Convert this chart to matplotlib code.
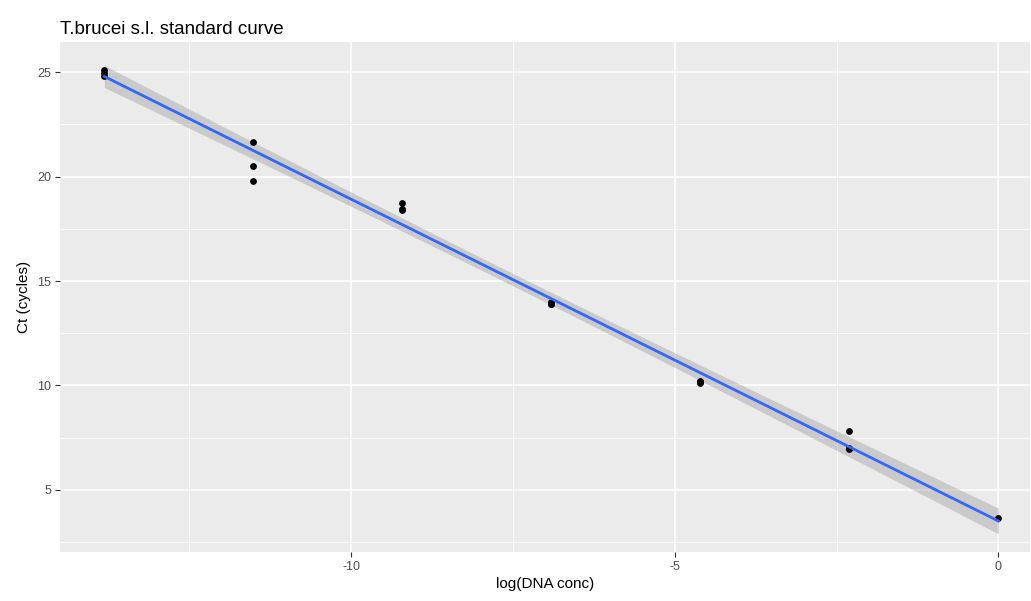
import numpy as np
import matplotlib
matplotlib.use("Agg")
import matplotlib.pyplot as plt

plt.rcParams['font.family'] = ['Liberation Sans', 'DejaVu Sans']

# Data: log(DNA conc) (natural log of 10-fold dilutions) and Ct values
log_conc = [-13.8155, -13.8155, -13.8155,
            -11.5129, -11.5129, -11.5129,
            -9.2103, -9.2103, -9.2103,
            -6.9078, -6.9078, -6.9078,
            -4.6052, -4.6052, -4.6052,
            -2.3026, -2.3026, -2.3026,
            0.0]
ct_values = [25.12, 24.95, 24.80,
             21.65, 20.50, 19.78,
             18.72, 18.45, 18.42,
             14.02, 13.92, 13.88,
             10.22, 10.15, 10.12,
             7.82, 7.02, 6.98,
             3.66]

title = "T.brucei s.l. standard curve"
xlabel = "log(DNA conc)"
ylabel = "Ct (cycles)"
xticks = [-10, -5, 0]
yticks = [5, 10, 15, 20, 25]

x = np.array(log_conc)
y = np.array(ct_values)

# linear fit with 95% confidence band (like geom_smooth(method="lm"))
n = len(x)
b1, b0 = np.polyfit(x, y, 1)
xs = np.linspace(x.min(), x.max(), 80)
ys = b0 + b1 * xs
resid = y - (b0 + b1 * x)
s = np.sqrt(np.sum(resid ** 2) / (n - 2))
tcrit = 2.1098  # t(0.975, df=17)
se = s * np.sqrt(1.0 / n + (xs - x.mean()) ** 2 / np.sum((x - x.mean()) ** 2))

fig = plt.figure(figsize=(10.31, 6.01), dpi=100)
ax = fig.add_axes([0.0582, 0.0815, 0.9409, 0.8486])
ax.set_facecolor('#EBEBEB')

ax.set_xlim(-14.5, 0.49)
ax.set_ylim(2.03, 26.44)

ax.set_xticks(xticks)
ax.set_yticks(yticks)
ax.set_xticks([-12.5, -7.5, -2.5], minor=True)
ax.set_yticks([2.5, 7.5, 12.5, 17.5, 22.5], minor=True)
ax.grid(which='major', color='white', linewidth=1.1)
ax.grid(which='minor', color='white', linewidth=0.55)
ax.set_axisbelow(True)
for sp in ax.spines.values():
    sp.set_visible(False)

ax.tick_params(which='major', length=3.5, width=0.8, color='#333333',
               labelsize=9, labelcolor='#4D4D4D', pad=3)
ax.tick_params(which='minor', length=0)
ax.set_xticklabels([str(v) for v in xticks])

ax.fill_between(xs, ys - tcrit * se, ys + tcrit * se, color='#999999', alpha=0.4,
                linewidth=0, zorder=2)
ax.scatter(x, y, s=24, color='black', zorder=3, linewidths=0)
ax.plot(xs, ys, color='#3366FF', linewidth=2, zorder=4)

ax.set_xlabel(xlabel, fontsize=11, color='black', labelpad=3)
ax.set_ylabel(ylabel, fontsize=11, color='black', labelpad=4)
ax.set_title(title, fontsize=13.5, loc='left', x=-0.0, pad=6, color='black')

fig.savefig('out.png', dpi=100)
